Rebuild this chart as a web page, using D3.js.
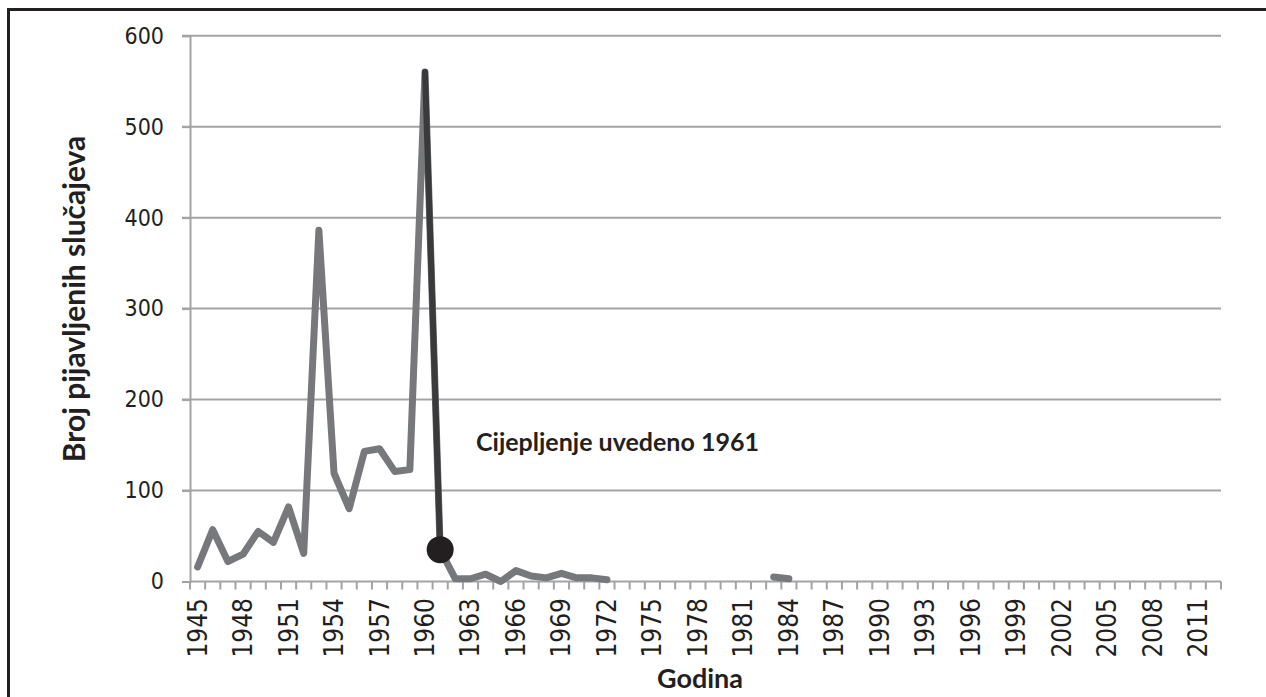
<!DOCTYPE html>
<html lang="hr">
<head>
<meta charset="UTF-8">
<title>Broj pijavljenih slučajeva</title>
<script src="https://cdn.jsdelivr.net/npm/d3@7"></script>
<style>
  html, body { margin: 0; padding: 0; background: #fff; }
  svg { display: block; }
</style>
</head>
<body>
<div id="chart"></div>
<script>
// years on the category axis
const years = [
  1945, 1946, 1947, 1948, 1949, 1950, 1951, 1952, 1953, 1954,
  1955, 1956, 1957, 1958, 1959, 1960, 1961, 1962, 1963, 1964,
  1965, 1966, 1967, 1968, 1969, 1970, 1971, 1972, 1973, 1974,
  1975, 1976, 1977, 1978, 1979, 1980, 1981, 1982, 1983, 1984,
  1985, 1986, 1987, 1988, 1989, 1990, 1991, 1992, 1993, 1994,
  1995, 1996, 1997, 1998, 1999, 2000, 2001, 2002, 2003, 2004,
  2005, 2006, 2007, 2008, 2009, 2010, 2011, 2012
];

// reported cases per year (null = no data)
const cases = [
  16, 57, 22, 30, 55, 43, 82, 31, 386, 119,
  80, 143, 146, 121, 123, 560, 35, 3, 3, 8,
  0, 12, 6, 4, 9, 4, 4, 2, null, null,
  null, null, null, null, null, null, null, null, 5, 3,
  null, null, null, null, null, null, null, null, null, null,
  null, null, null, null, null, null, null, null, null, null,
  null, null, null, null, null, null, null, null
];

// highlighted drop after vaccination
const vaccYears = [1960, 1961];
const vaccCases = [560, 35];

const yTicks = [0, 100, 200, 300, 400, 500, 600];
const xLabelYears = [
  1945, 1948, 1951, 1954, 1957, 1960, 1963, 1966, 1969, 1972, 1975,
  1978, 1981, 1984, 1987, 1990, 1993, 1996, 1999, 2002, 2005, 2008, 2011
];

const annotation = "Cijepljenje uvedeno 1961";
const yTitle = "Broj pijavljenih slučajeva";
const xTitle = "Godina";

const W = 1266, H = 697;
const plot = { left: 190, right: 1221, top: 35.7, bottom: 581.5 };

const svg = d3.select("#chart").append("svg")
  .attr("width", W).attr("height", H);

// outer frame
svg.append("rect")
  .attr("x", 8.5).attr("y", 9.5)
  .attr("width", 1262).attr("height", 700)
  .attr("fill", "none").attr("stroke", "#231f20").attr("stroke-width", 3);

const x = d3.scaleBand().domain(years).range([plot.left, plot.right]);
const y = d3.scaleLinear().domain([0, 600]).range([plot.bottom, plot.top]);
const cx = yr => x(yr) + x.bandwidth() / 2;

const gridColor = "#a3a3a3";
const tickFont = "'DejaVu Sans Condensed', 'DejaVu Sans', sans-serif";
const titleFont = "Lato, 'Open Sans', sans-serif";

// gridlines
svg.append("g").selectAll("line")
  .data(yTicks.filter(d => d > 0))
  .join("line")
  .attr("x1", plot.left - 8).attr("x2", plot.right)
  .attr("y1", d => y(d)).attr("y2", d => y(d))
  .attr("stroke", gridColor).attr("stroke-width", 2);

// y axis
const yAxis = svg.append("g")
  .attr("transform", `translate(${plot.left},0)`)
  .call(d3.axisLeft(y).tickValues(yTicks).tickSize(8).tickPadding(18));
yAxis.select(".domain").attr("stroke", gridColor).attr("stroke-width", 2);
yAxis.selectAll(".tick line").attr("stroke", gridColor).attr("stroke-width", 2);
yAxis.selectAll(".tick text")
  .attr("fill", "#231f20")
  .style("font-family", tickFont)
  .style("font-stretch", "condensed")
  .style("font-size", "23px");

// x axis: line plus ticks at category boundaries
const xg = svg.append("g");
xg.append("line")
  .attr("x1", plot.left).attr("x2", plot.right)
  .attr("y1", plot.bottom).attr("y2", plot.bottom)
  .attr("stroke", gridColor).attr("stroke-width", 2);
const bounds = years.map(yr => x(yr)).concat([plot.right]);
xg.selectAll("line.tk")
  .data(bounds)
  .join("line")
  .attr("class", "tk")
  .attr("x1", d => d).attr("x2", d => d)
  .attr("y1", plot.bottom).attr("y2", plot.bottom + 8)
  .attr("stroke", gridColor).attr("stroke-width", 2);

xg.selectAll("text")
  .data(xLabelYears)
  .join("text")
  .attr("transform", d => `translate(${cx(d)},598) rotate(-90)`)
  .attr("text-anchor", "end")
  .attr("dominant-baseline", "central")
  .attr("fill", "#231f20")
  .style("font-family", tickFont)
  .style("font-stretch", "condensed")
  .style("font-size", "26px")
  .text(d => d);

// main series
const line = d3.line()
  .defined(d => d[1] !== null)
  .x(d => cx(d[0]))
  .y(d => y(d[1]));

svg.append("path")
  .datum(years.map((yr, i) => [yr, cases[i]]))
  .attr("d", line)
  .attr("fill", "none")
  .attr("stroke", "#77787b")
  .attr("stroke-width", 7)
  .attr("stroke-linejoin", "round")
  .attr("stroke-linecap", "round");

// vaccination drop
svg.append("path")
  .datum(vaccYears.map((yr, i) => [yr, vaccCases[i]]))
  .attr("d", line)
  .attr("fill", "none")
  .attr("stroke", "#3a3a3c")
  .attr("stroke-width", 6)
  .attr("stroke-linecap", "round");

svg.append("circle")
  .attr("cx", cx(vaccYears[1]))
  .attr("cy", y(vaccCases[1]))
  .attr("r", 13.5)
  .attr("fill", "#231f20");

// annotation
svg.append("text")
  .attr("x", 476).attr("y", 451)
  .attr("fill", "#231f20")
  .style("font-family", titleFont)
  .style("font-weight", "bold")
  .style("font-size", "25px")
  .text(annotation);

// axis titles
svg.append("text")
  .attr("transform", "translate(85,299) rotate(-90)")
  .attr("text-anchor", "middle")
  .attr("fill", "#231f20")
  .style("font-family", titleFont)
  .style("font-weight", "bold")
  .style("font-size", "30px")
  .text(yTitle);

svg.append("text")
  .attr("x", 700).attr("y", 688)
  .attr("text-anchor", "middle")
  .attr("fill", "#231f20")
  .style("font-family", titleFont)
  .style("font-weight", "bold")
  .style("font-size", "27px")
  .text(xTitle);
</script>
</body>
</html>
